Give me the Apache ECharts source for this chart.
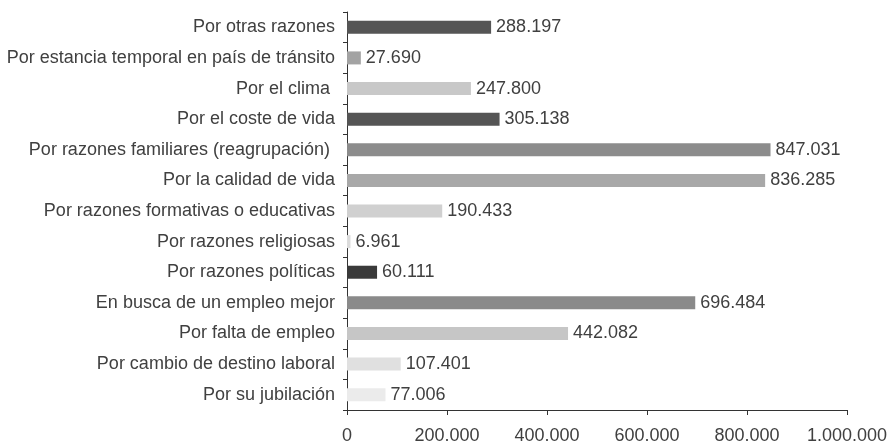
<!DOCTYPE html>
<html>
<head>
<meta charset="utf-8">
<script src="https://cdn.jsdelivr.net/npm/echarts@6/dist/echarts.min.js"></script>
<style>
  html, body { margin: 0; padding: 0; background: #fff; }
  #chart { width: 891px; height: 445px; }
</style>
</head>
<body>
<div id="chart"></div>
<script>
// motivos, de arriba a abajo
const categories = [
  'Por otras razones',
  'Por estancia temporal en país de tránsito',
  'Por el clima ',
  'Por el coste de vida',
  'Por razones familiares (reagrupación) ',
  'Por la calidad de vida',
  'Por razones formativas o educativas',
  'Por razones religiosas',
  'Por razones políticas',
  'En busca de un empleo mejor',
  'Por falta de empleo',
  'Por cambio de destino laboral',
  'Por su jubilación'
];
const values = [288197, 27690, 247800, 305138, 847031, 836285, 190433, 6961, 60111, 696484, 442082, 107401, 77006];
const barColors = ['#555555', '#a3a3a3', '#c8c8c8', '#555555', '#8c8c8c', '#a8a8a8', '#d0d0d0',
  '#dcdcdc', '#3a3a3a', '#8a8a8a', '#c6c6c6', '#e0e0e0', '#ebebeb'];
const xTicks = [0, 200000, 400000, 600000, 800000, 1000000];

const fmt = v => String(v).replace(/\B(?=(\d{3})+(?!\d))/g, '.');
const font = 'Liberation Sans';
const textColor = '#404040';

const chart = echarts.init(document.getElementById('chart'));
chart.setOption({
  animation: false,
  grid: { left: 347, right: 44, top: 12, bottom: 33, containLabel: false },
  xAxis: {
    type: 'value',
    min: xTicks[0],
    max: xTicks[xTicks.length - 1],
    interval: xTicks[1] - xTicks[0],
    axisLine: { show: true, lineStyle: { color: '#333', width: 1 } },
    axisTick: { show: true, length: 5, lineStyle: { color: '#333' } },
    splitLine: { show: false },
    axisLabel: { formatter: fmt, color: textColor, fontFamily: font, fontSize: 18, margin: 17 }
  },
  yAxis: {
    type: 'category',
    inverse: true,
    data: categories,
    axisLine: { show: true, lineStyle: { color: '#333', width: 1 } },
    axisTick: { show: true, length: 4, lineStyle: { color: '#333' } },
    axisLabel: { color: textColor, fontFamily: font, fontSize: 18, margin: 12 }
  },
  series: [{
    type: 'bar',
    data: values.map((v, i) => ({ value: v, itemStyle: { color: barColors[i] } })),
    barWidth: 13,
    label: {
      show: true,
      position: 'right',
      distance: 5,
      formatter: p => fmt(p.value),
      color: textColor,
      fontFamily: font,
      fontSize: 18
    }
  }]
});
</script>
</body>
</html>
